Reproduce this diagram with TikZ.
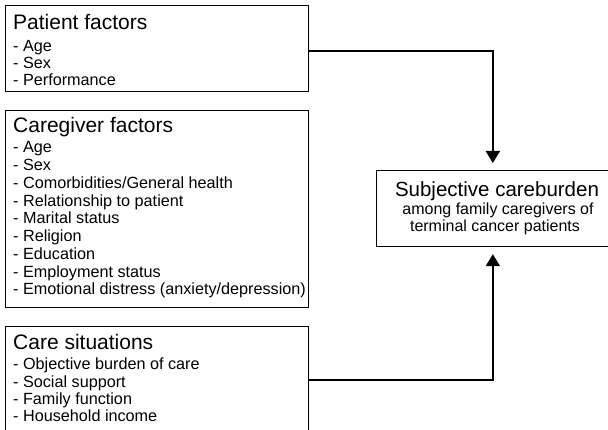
\documentclass[tikz,border=0pt]{standalone}
\usepackage{fontspec}
\setmainfont{Liberation Sans}
\usetikzlibrary{arrows.meta}
\begin{document}
\begin{tikzpicture}[x=1pt,y=-1pt,
  box/.style={draw=black,line width=1.2pt,inner sep=0pt,anchor=north west},
  ttl/.style={anchor=base west,inner sep=0pt,font=\fontsize{21}{25}\selectfont},
  itm/.style={anchor=base west,inner sep=0pt,font=\fontsize{16.2}{17.5}\selectfont},
  otl/.style={anchor=base,inner sep=0pt,font=\fontsize{20.5}{24}\selectfont},
  osub/.style={anchor=base,inner sep=0pt,font=\fontsize{16}{17}\selectfont},
  conn/.style={line width=2pt,-{Triangle[width=14pt,length=12pt]},shorten >=7pt}]
\fill[white] (0,0) rectangle (608,430);
\useasboundingbox (0,0) rectangle (608,430);
\clip (0,0) rectangle (608,430);
% boxes
\node[box,minimum width=303pt,minimum height=86pt] (p) at (5,5) {};
\node[box,minimum width=303pt,minimum height=197pt] (c) at (5,110) {};
\node[box,minimum width=303pt,minimum height=106pt] (s) at (5,326) {};
\node[box,minimum width=232.5pt,minimum height=76pt] (out) at (376,170) {};
% patient factors
\node[ttl] (pt) at (13,30) {Patient factors};
\foreach [count=\i] \t in {Age,Sex,Performance}
  \node[itm] (p\i) at (13,{51.5+17*(\i-1)}) {- \t};
% caregiver factors
\node[ttl] (ct) at (13,133) {Caregiver factors};
\foreach [count=\i] \t in {Age,Sex,Comorbidities/General health,Relationship to patient,Marital status,Religion,Education,Employment status,Emotional distress (anxiety/depression)}
  \node[itm] (c\i) at (13,{153+17.75*(\i-1)}) {- \t};
% care situations
\node[ttl] (st) at (13,350) {Care situations};
\foreach [count=\i] \t in {Objective burden of care,Social support,Family function,Household income}
  \node[itm] (s\i) at (13,{370+17.3*(\i-1)}) {- \t};
% outcome
\node[otl] (o1) at (497,197) {Subjective careburden};
\node[osub] (o2) at (498,215) {among family caregivers of};
\node[osub] (o3) at (495,232) {terminal cancer patients};
% connectors
\draw[conn] ([yshift=-2pt]p.east) -| (out.north);
\draw[conn] (s.east) -| (out.south);
\end{tikzpicture}
\end{document}
